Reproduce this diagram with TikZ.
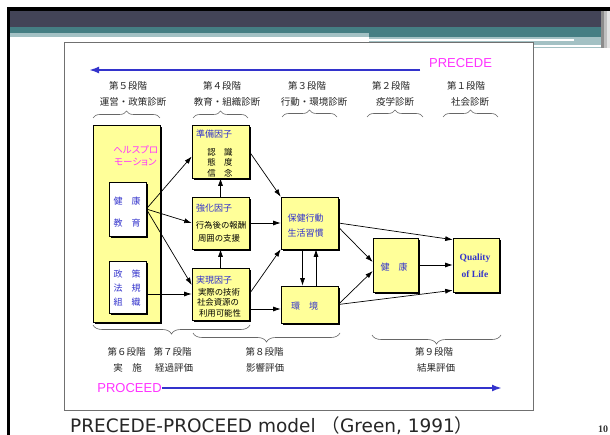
\documentclass[tikz,border=0pt]{standalone}
\usepackage{fontspec}
\setmainfont{DejaVu Sans}
\newfontfamily\jpfont{Noto Sans CJK JP}
\newfontfamily\jpkana{Noto Sans CJK JP}[RawFeature=+palt]
\newfontfamily\arialfont{Liberation Sans}
\newfontfamily\timesfont{Liberation Serif}
\usetikzlibrary{arrows.meta,decorations.pathreplacing,shadows}

\definecolor{factorfill}{RGB}{255,255,153}
\definecolor{labelblue}{RGB}{51,51,204}
\definecolor{labelpink}{RGB}{255,51,255}
\definecolor{slidedark}{RGB}{67,68,87}
\definecolor{slideteal}{RGB}{69,126,131}
\definecolor{slidelight}{RGB}{163,193,196}
\definecolor{framegray}{RGB}{112,112,112}

\tikzset{
  factor/.style={draw=black, line width=0.6pt, fill=factorfill, inner sep=0pt,
    drop shadow={shadow xshift=2.4pt, shadow yshift=-2.4pt, fill=black, opacity=1}},
  methodbox/.style={factor, fill=white},
  stagelabel/.style={font=\jpfont\fontsize{9.5}{11}\selectfont, text=black!85, inner sep=0pt},
  factorname/.style={font=\jpfont\fontsize{9}{11}\selectfont, text=labelblue, inner sep=0pt, anchor=west},
  factoritem/.style={font=\jpfont\fontsize{8.4}{10}\selectfont, text=black, inner sep=0pt},
  bluetext/.style={font=\jpfont\fontsize{9}{11}\selectfont, text=labelblue, inner sep=0pt},
  link/.style={-{Latex[length=7.5pt,width=5pt]}, line width=0.7pt},
  timeline/.style={line width=2.2pt, draw=labelblue, -{Latex[length=10pt,width=7pt]}},
  phasebrace/.style={decorate, decoration={brace, amplitude=#1}, draw=black!60, line width=0.6pt},
  phasebrace/.default=7pt,
  modelname/.style={font=\arialfont\fontsize{13}{15}\selectfont, text=labelpink, inner sep=0pt}
}

\begin{document}
\begin{tikzpicture}[x=1pt,y=-1pt]
                \useasboundingbox (0,0) rectangle (610,435);
                \fill[white] (0,0) rectangle (610,435);%

                % Slide header bars and border
                \fill[black] (7,7.5) rectangle (610,10.7);%
                \fill[black] (7,7.5) rectangle (10,435);%
                \fill[slidedark] (10,10.7) rectangle (601,27.3);%
                \fill[slideteal] (10,27.3) rectangle (601,32.7);%
                \fill[slideteal] (369,32.7) rectangle (601,36.7);%
                \fill[slidelight] (10,32.7) rectangle (369,36.7);%
                \fill[slidelight] (369,36.7) rectangle (533,42.7);%
                \fill[slidelight] (533,36.7) rectangle (607,47.7);%
                \fill[white] (369,39.3) rectangle (574,40.7);%
                \fill[white] (533,45) rectangle (607,46.7);%
                \fill[black!45] (601,10.7) rectangle (604,47.7);%
                \fill[black!25] (604,10.7) rectangle (607,47.7);%
                \fill[black!10] (607,10.7) rectangle (610,47.7);%

                % Frame round the model
                \draw[framegray, line width=1pt] (64,43) rectangle (533,410);%

                % Drawing PRECEDE direction
                \node[modelname] (precede) at (460.5,63) {PRECEDE};%
                \coordinate (precede start) at (420,70);%
                \coordinate (precede end) at (89,70);%
                \draw[timeline] (precede start) -- (precede end);%

                % Stages 5 to 1
                \node[stagelabel] (st5) at (128,86) {第５段階};%
                \node[stagelabel] (st5b) at (133,102) {運営・政策診断};%
                \node[stagelabel] (st4) at (222,86) {第４段階};%
                \node[stagelabel] (st4b) at (227,102) {教育・組織診断};%
                \node[stagelabel] (st3) at (307,86) {第３段階};%
                \node[stagelabel] (st3b) at (314,102) {行動・環境診断};%
                \node[stagelabel] (st2) at (391,86) {第２段階};%
                \node[stagelabel] (st2b) at (395,102) {疫学診断};%
                \node[stagelabel] (st1) at (466,86) {第１段階};%
                \node[stagelabel] (st1b) at (470,102) {社会診断};%

                \draw[phasebrace] (93,118) -- (160,118);%
                \draw[phasebrace] (193,118) -- (248,118);%
                \draw[phasebrace] (282,117) -- (337,117);%
                \draw[phasebrace] (367,117) -- (423,117);%
                \draw[phasebrace] (443,117) -- (498,117);%

                % Health promotion box
                \node[factor, minimum width=67, minimum height=197] (hp) at (126.5,223.5) {};%
                \node[font=\jpkana\fontsize{9.5}{11}\selectfont, text=labelpink, inner sep=0pt, anchor=west] (hp1) at (113,150) {ヘルスプロ};%
                \node[font=\jpkana\fontsize{9.5}{11}\selectfont, text=labelpink, inner sep=0pt, anchor=west] (hp2) at (114,162) {モーション};%

                \node[methodbox, minimum width=37, minimum height=54] (edu) at (127.5,209) {};%
                \node[bluetext] (edu1) at (127,201) {健　康};%
                \node[bluetext] (edu2) at (127,223) {教　育};%

                \node[methodbox, minimum width=37, minimum height=52] (policy) at (127.5,287) {};%
                \node[bluetext] (pol1) at (127,274) {政　策};%
                \node[bluetext] (pol2) at (127,288) {法　規};%
                \node[bluetext] (pol3) at (127,302) {組　織};%

                % Predisposing, reinforcing and enabling factors
                \node[factor, minimum width=57, minimum height=53] (prep) at (220.5,151.5) {};%
                \node[factorname] (prep t) at (196,134) {準備因子};%
                \node[factoritem] (prep1) at (220,152) {認　識};%
                \node[factoritem] (prep2) at (220,162) {態　度};%
                \node[factoritem] (prep3) at (220,173) {信　念};%

                \node[factor, minimum width=57, minimum height=52] (reinf) at (220.5,223) {};%
                \node[factorname] (reinf t) at (196,208) {強化因子};%
                \node[factoritem] (reinf1) at (221,225) {行為後の報酬};%
                \node[factoritem] (reinf2) at (219,238) {周囲の支援};%

                \node[factor, minimum width=57, minimum height=52] (enab) at (220.5,294) {};%
                \node[factorname] (enab t) at (196,280) {実現因子};%
                \node[factoritem] (enab1) at (219,292) {実際の技術};%
                \node[factoritem] (enab2) at (218,302) {社会資源の};%
                \node[factoritem] (enab3) at (220,313) {利用可能性};%

                % Behaviour, environment, health and QOL
                \node[factor, minimum width=57, minimum height=52] (behav) at (309.5,223) {};%
                \node[bluetext] (behav1) at (305.5,218) {保健行動};%
                \node[bluetext] (behav2) at (305.5,233) {生活習慣};%

                \node[factor, minimum width=57, minimum height=37] (env) at (309.5,304.5) {};%
                \node[bluetext] (env1) at (304.5,306) {環　境};%

                \node[factor, minimum width=45, minimum height=54] (health) at (395.5,265) {};%
                \node[bluetext] (health1) at (394,267) {健　康};%

                \node[factor, minimum width=46, minimum height=54] (qol) at (476,265) {};%
                \node[font=\timesfont\bfseries\fontsize{9.5}{11}\selectfont, text=labelblue, inner sep=0pt] (qol1) at (475,258) {Quality};%
                \node[font=\timesfont\bfseries\fontsize{9.5}{11}\selectfont, text=labelblue, inner sep=0pt] (qol2) at (475,274) {of Life};%

                % Drawing links
                \draw[link] (edu.east) -- ([yshift=-5pt]prep.west);%
                \draw[link] (edu.east) -- (reinf.west);%
                \draw[link] (edu.east) -- ([yshift=9pt]enab.west);%
                \draw[link] (policy.east |- enab.west) -- (enab.west);%
                \draw[link] (reinf.north) -- (prep.south);%
                \draw[link] (enab.north) -- (reinf.south);%
                \draw[link] (prep.east) -- (behav.north west);%
                \draw[link] (reinf.east) -- (behav.west);%
                \draw[link] (enab.east) -- (behav.south west);%
                \draw[link] ([yshift=-15pt]enab.east) -- ([yshift=-4.5pt]env.west);%
                \draw[link] ([xshift=-7pt]behav.south) -- ([xshift=-7pt]env.north);%
                \draw[link] ([xshift=6.5pt]env.north) -- ([xshift=6.5pt]behav.south);%
                \draw[link] (behav.east) -- ([yshift=-2pt]qol.north west);%
                \draw[link] ([yshift=-4pt]behav.east) -- ([yshift=3pt]health.west);%
                \draw[link] (env.east) -- ([yshift=-6pt]health.west);%
                \draw[link] (env.east) -- ([yshift=2pt]qol.south west);%
                \draw[link] (health.east) -- (qol.west);%

                % Stages 6 to 9
                \draw[phasebrace=9pt] (250,325) -- (93,325);%
                \draw[phasebrace=9pt] (340,333) -- (193,333);%
                \draw[phasebrace=9pt] (501,335) -- (372,335);%

                \node[stagelabel] (st6) at (126.5,352) {第６段階};%
                \node[stagelabel] (st7) at (172.5,352) {第７段階};%
                \node[stagelabel] (st6b) at (127.5,368) {実　施};%
                \node[stagelabel] (st7b) at (174,368) {経過評価};%
                \node[stagelabel] (st8) at (264.5,352) {第８段階};%
                \node[stagelabel] (st8b) at (265,368) {影響評価};%
                \node[stagelabel] (st9) at (434,352) {第９段階};%
                \node[stagelabel] (st9b) at (436,368) {結果評価};%

                % Drawing PROCEED direction
                \node[modelname] (proceed) at (129.5,388) {PROCEED};%
                \coordinate (proceed end) at (502,388);%
                \draw[timeline] (proceed.east) -- (proceed end);%

                % Caption and page number
                \node[anchor=base west, inner sep=0pt, font=\fontsize{18.5}{22}\selectfont, text=black!85] (caption) at (70,432) {PRECEDE-PROCEED model {\jpfont （}Green, 1991{\jpfont ）}};%
                \node[anchor=base west, inner sep=0pt, font=\timesfont\bfseries\fontsize{10}{12}\selectfont, text=black!80] (pageno) at (598,432) {10};%
\end{tikzpicture}
\end{document}
